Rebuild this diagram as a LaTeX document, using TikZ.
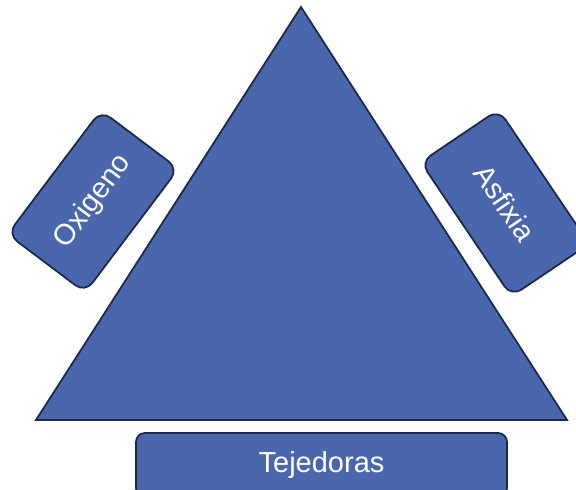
\documentclass[tikz,border=0pt]{standalone}
\usepackage{fontspec}
\setmainfont{Liberation Sans}
\usetikzlibrary{positioning}
\definecolor{fillblue}{HTML}{4A67AD}
\definecolor{edgenavy}{HTML}{1B2A4A}

\begin{document}
\begin{tikzpicture}[
  x=1pt,y=1pt,
  tag/.style={draw=edgenavy,fill=fillblue,line width=1.8pt,rounded corners=12pt,
    text=white,font=\fontsize{29}{34}\selectfont,inner sep=0pt},
]
  \useasboundingbox (0,0) rectangle (576,490);
  \clip (0,0) rectangle (576,490);
  \coordinate (apex) at (301,483);
  \coordinate (left) at (36,70);
  \coordinate (right) at (567,70);
  \draw[draw=edgenavy,fill=fillblue,line width=1.8pt,line join=miter] (apex) -- (left) -- (right) -- cycle;

  \node[tag,rotate=53,minimum width=155pt,minimum height=97pt] (oxigeno) at (93,288.5) {Oxigeno};
  \node[tag,rotate=-56,minimum width=162pt,minimum height=94pt] (asfixia) at (505,287) {Asfixia};
  \node[tag,rounded corners=9pt,minimum width=371pt,minimum height=64pt] (tejedoras) at (321.5,25) {Tejedoras};
\end{tikzpicture}
\end{document}
